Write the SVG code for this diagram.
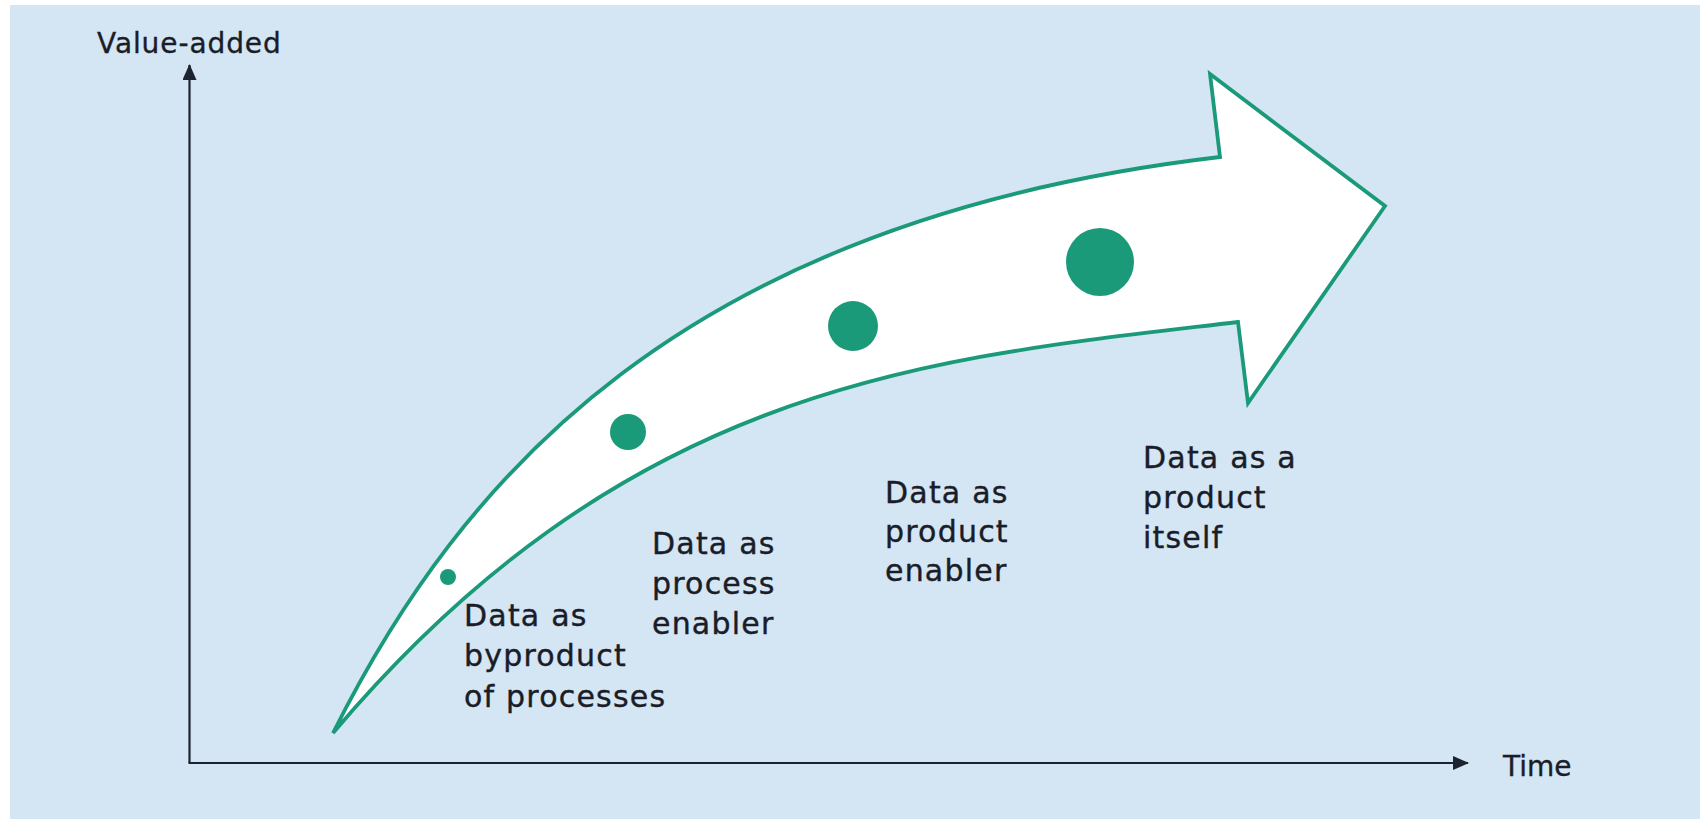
<svg xmlns="http://www.w3.org/2000/svg" width="1700" height="819" viewBox="0 0 1700 819">
  <defs>
    <style>
      .bg { fill: #d4e5f3; }
      .axis { stroke: #1c2330; stroke-width: 2.2; fill: none; }
      .axis-label { font-family: "DejaVu Sans", "Noto Sans", sans-serif; font-size: 28px; fill: #1a1d28; stroke: #1a1d28; stroke-width: 0.35px; }
      .label { font-family: "DejaVu Sans", "Noto Sans", sans-serif; font-size: 30px; letter-spacing: 1.2px; fill: #1a1d28; stroke: #1a1d28; stroke-width: 0.4px; }
      .band { fill: #ffffff; stroke: #1b9a7a; stroke-width: 3.8; stroke-linejoin: miter; }
      .dot { fill: #1b9a7a; }
    </style>
    <marker id="axis-head" markerUnits="userSpaceOnUse" markerWidth="16" markerHeight="14" refX="15" refY="7" orient="auto">
      <path d="M0,0 L16,7 L0,14 Z" fill="#1c2330"/>
    </marker>
  </defs>

  <rect x="0" y="0" width="1700" height="819" fill="#ffffff"/>
  <rect class="bg" x="10" y="5" width="1690" height="814"/>

  <g id="connectors">
    <line id="y-axis" class="axis" x1="189.5" y1="763" x2="189.5" y2="65" marker-end="url(#axis-head)"/>
    <line id="x-axis" class="axis" x1="188.5" y1="763" x2="1468" y2="763" marker-end="url(#axis-head)"/>
  </g>

  <g id="axis-value-added">
    <text class="axis-label" x="97" y="53" style="letter-spacing:0.9px">Value-added</text>
  </g>
  <g id="axis-time">
    <text class="axis-label" x="1503" y="776">Time</text>
  </g>

  <g id="growth-arrow">
    <path class="band" d="M333,733 C460,480 680,220 1220,157 L1210,74 L1385,206 L1248,403 L1238,322 C937,358 633,378 333,733 Z"/>
  </g>

  <g id="stage-byproduct">
    <circle class="dot" cx="448" cy="577" r="8"/>
    <text class="label" x="464" y="626">Data as</text>
    <text class="label" x="464" y="666">byproduct</text>
    <text class="label" x="464" y="707">of processes</text>
  </g>

  <g id="stage-process-enabler">
    <circle class="dot" cx="628" cy="432" r="18"/>
    <text class="label" x="652" y="554">Data as</text>
    <text class="label" x="652" y="594">process</text>
    <text class="label" x="652" y="634">enabler</text>
  </g>

  <g id="stage-product-enabler">
    <circle class="dot" cx="853" cy="326" r="25"/>
    <text class="label" x="885" y="503">Data as</text>
    <text class="label" x="885" y="542">product</text>
    <text class="label" x="885" y="581">enabler</text>
  </g>

  <g id="stage-product-itself">
    <circle class="dot" cx="1100" cy="262" r="34"/>
    <text class="label" x="1143" y="468">Data as a</text>
    <text class="label" x="1143" y="508">product</text>
    <text class="label" x="1143" y="548">itself</text>
  </g>
</svg>
